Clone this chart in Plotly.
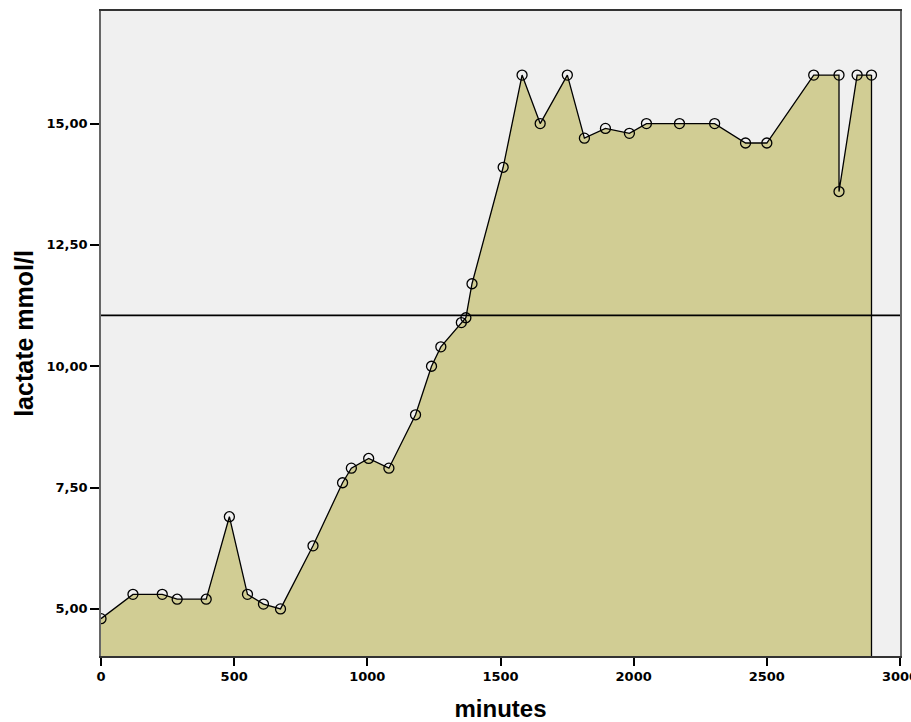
import plotly.graph_objects as go

minutes = [0, 120, 230, 286, 395, 482, 550, 610, 674, 796, 907, 940, 1005, 1081,
           1181, 1241, 1276, 1353, 1370, 1393, 1510, 1581, 1649, 1751, 1815, 1894,
           1984, 2048, 2172, 2304, 2420, 2500, 2676, 2771, 2771, 2839, 2893]
lactate = [4.8, 5.3, 5.3, 5.2, 5.2, 6.9, 5.3, 5.1, 5.0, 6.3, 7.6, 7.9, 8.1, 7.9,
           9.0, 10.0, 10.4, 10.9, 11.0, 11.7, 14.1, 16.0, 15.0, 16.0, 14.7, 14.9,
           14.8, 15.0, 15.0, 15.0, 14.6, 14.6, 16.0, 16.0, 13.6, 16.0, 16.0]
reference_level = 11.05
y_range = [4.03, 17.32]
x_range = [0, 3000]
y_ticks = [5.0, 7.5, 10.0, 12.5, 15.0]
x_ticks = [0, 500, 1000, 1500, 2000, 2500, 3000]

FILL = "rgb(209,205,148)"

fig = go.Figure()
fig.add_trace(go.Scatter(
    x=minutes, y=lactate, mode="lines", fill="tozeroy", fillcolor=FILL,
    line=dict(color="black", width=1.3), hoverinfo="skip", showlegend=False))
# closing vertical edge of the area
fig.add_trace(go.Scatter(
    x=[minutes[-1], minutes[-1]], y=[lactate[-1], y_range[0]], mode="lines",
    line=dict(color="black", width=1.3), showlegend=False))
fig.add_trace(go.Scatter(
    x=minutes, y=lactate, mode="markers",
    marker=dict(symbol="circle-open", size=10, color="black", line=dict(width=1.3)),
    showlegend=False))
fig.add_hline(y=reference_level, line=dict(color="black", width=1.8))

tickfont = dict(family="DejaVu Sans", size=13, color="black", weight="bold")
xtitlefont = dict(family="Liberation Sans", size=24, color="black", weight="bold")
ytitlefont = dict(family="Liberation Sans", size=25, color="black", weight="bold")

fig.update_layout(
    width=911, height=722,
    margin=dict(l=101, r=11, t=11, b=66),
    paper_bgcolor="white", plot_bgcolor="#f0f0f0",
    separators=",.",
)
fig.update_xaxes(
    range=x_range, tickvals=x_ticks, tickformat="d",
    showgrid=False, zeroline=False, automargin=False,
    ticks="outside", ticklen=8, tickwidth=2, tickcolor="black",
    showline=True, linecolor="#333", linewidth=1.5, mirror=True,
    tickfont=tickfont, ticklabeloverflow="allow",
    title=dict(text="minutes", font=xtitlefont, standoff=18),
)
fig.update_yaxes(
    range=y_range, tickvals=y_ticks, tickformat=".2f",
    showgrid=False, zeroline=False, automargin=False,
    ticks="outside", ticklen=9, tickwidth=2, tickcolor="black",
    showline=True, linecolor="#666", linewidth=1.5, mirror=True,
    tickfont=tickfont,
    title=dict(text="lactate mmol/l", font=ytitlefont, standoff=6),
)

fig.write_html("out.html", config={"displayModeBar": False},
               post_script="document.body.style.margin='0';")
